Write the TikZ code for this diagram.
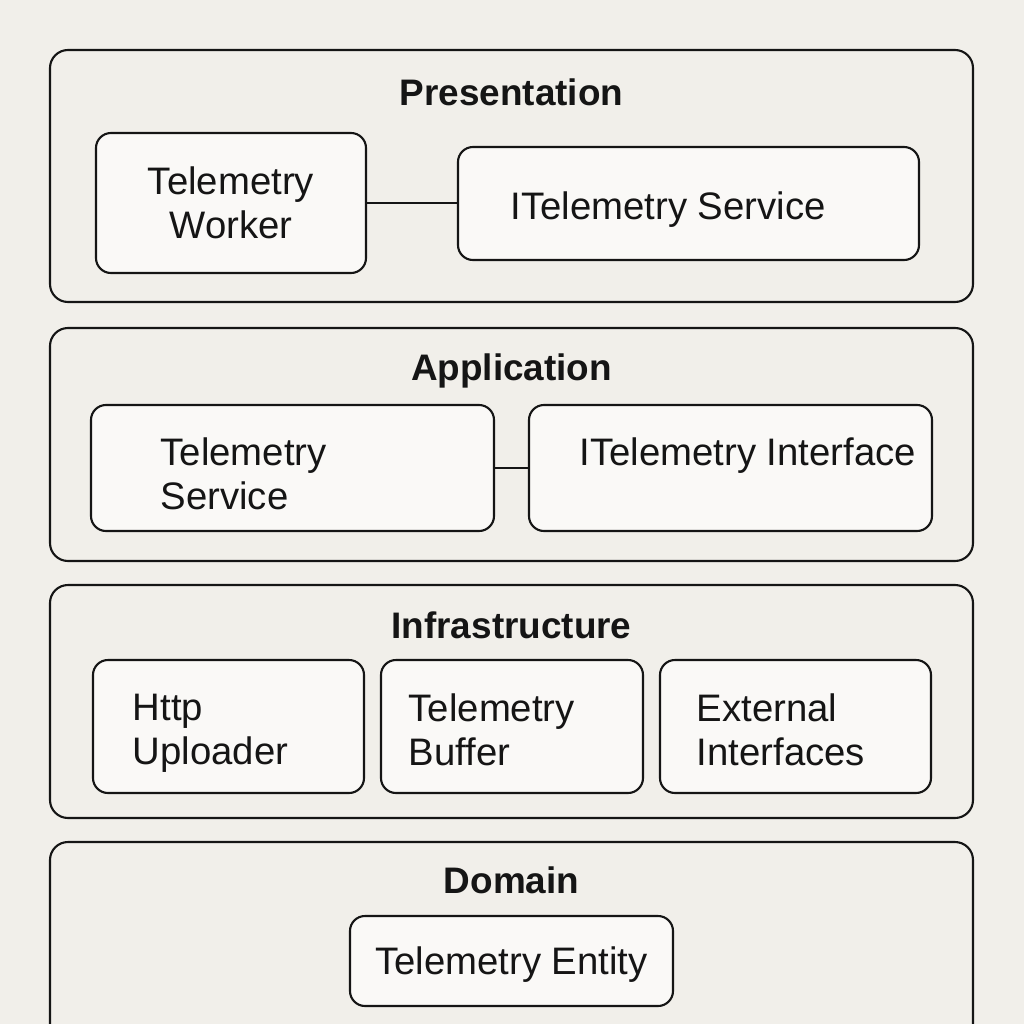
\documentclass[tikz,border=0pt]{standalone}
\usepackage{fontspec}
\setmainfont{Liberation Sans}
\usetikzlibrary{positioning}
\definecolor{paper}{HTML}{F1EFEA}
\definecolor{boxfill}{HTML}{FAF9F7}
\definecolor{ink}{HTML}{151515}

\begin{document}
\begin{tikzpicture}[
    layer/.style={draw=ink, line width=0.6pt, rounded corners=0.18cm, fill=paper, minimum width=9.23cm, inner sep=0pt, outer sep=0pt},
    comp/.style={draw=ink, line width=0.6pt, rounded corners=0.15cm, fill=boxfill, inner sep=0pt, text=ink, align=center, font=\fontsize{10.9}{12.5}\selectfont},
    title/.style={anchor=base, inner sep=0pt, text=ink, font=\bfseries\fontsize{10.5}{12}\selectfont},
    txt/.style={anchor=north west, inner sep=0pt, text=ink, align=left, font=\fontsize{10.9}{12.5}\selectfont},
    link/.style={draw=ink, line width=0.5pt}]
    \fill[paper] (0,0) rectangle (10.24,-10.24);
    \useasboundingbox (0,0) rectangle (10.24,-10.24);

    % layers
    \node[layer, minimum height=2.52cm] (pres)  at (5.115,-1.76) {};
    \node[layer, minimum height=2.33cm] (app)   [below=0.26cm of pres]  {};
    \node[layer, minimum height=2.33cm] (infra) [below=0.24cm of app]   {};
    \node[layer, minimum height=2.00cm] (dom)   [below=0.24cm of infra] {};

    \node[title] (prestitle)  at ([yshift=-0.55cm]pres.north)  {Presentation};
    \node[title] (apptitle)   at ([yshift=-0.52cm]app.north)   {Application};
    \node[title] (infratitle) at ([yshift=-0.53cm]infra.north) {Infrastructure};
    \node[title] (domtitle)   at ([yshift=-0.51cm]dom.north)   {Domain};

    % presentation
    \node[comp, minimum width=2.70cm, minimum height=1.40cm] (worker) at (2.31,-2.03) {Telemetry\\Worker};
    \node[comp, minimum width=4.61cm, minimum height=1.13cm] (iserv)  at (6.885,-2.035) {};
    \node[txt] (iservtxt) at (5.10,-1.91) {ITelemetry Service};

    % application
    \node[comp, minimum width=4.03cm, minimum height=1.26cm] (svc)   at (2.925,-4.68) {};
    \node[comp, minimum width=4.03cm, minimum height=1.26cm] (iface) at (7.305,-4.68) {};
    \node[txt] (svctxt)   at (1.60,-4.37) {Telemetry\\Service};
    \node[txt] (ifacetxt) at (5.79,-4.37) {ITelemetry Interface};

    % infrastructure
    \node[comp, minimum width=2.71cm, minimum height=1.33cm] (http)   at (2.285,-7.265) {};
    \node[comp, minimum width=2.62cm, minimum height=1.33cm] (buffer) at (5.12,-7.265)  {};
    \node[comp, minimum width=2.71cm, minimum height=1.33cm] (ext)    at (7.955,-7.265) {};
    \node[txt] (httptxt)   at (1.32,-6.93) {Http\\Uploader};
    \node[txt] (buffertxt) at (4.08,-6.93) {Telemetry\\Buffer};
    \node[txt] (exttxt)    at (6.96,-6.93) {External\\Interfaces};

    % domain
    \node[comp, minimum width=3.23cm, minimum height=0.90cm, text depth=0pt] (entity) at (5.115,-9.61) {Telemetry Entity};

    \path[link]
        (worker.east) edge (worker.east -| iserv.west)
        (svc.east)    edge (iface.west);
\end{tikzpicture}
\end{document}
